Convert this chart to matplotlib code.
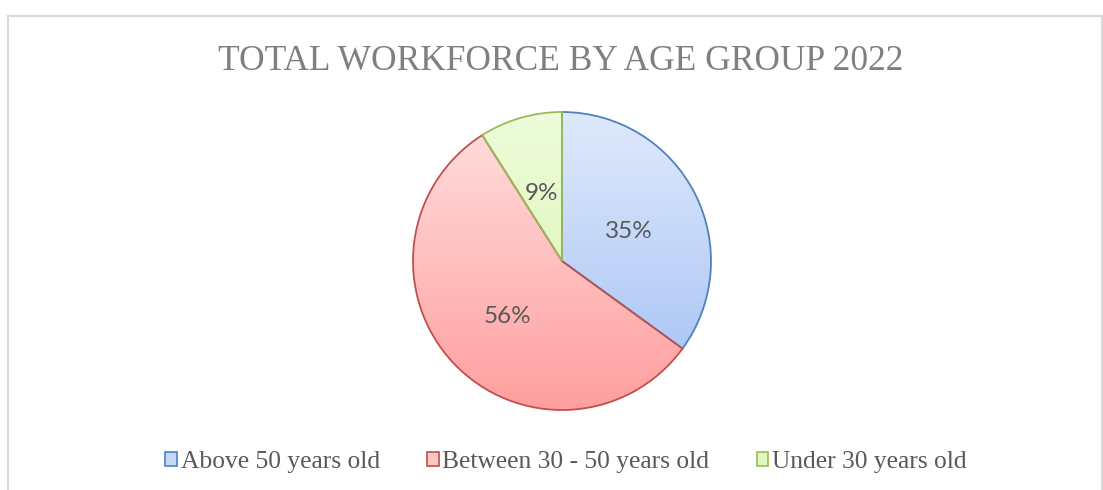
import numpy as np
import matplotlib
matplotlib.use("Agg")
import matplotlib.pyplot as plt
from matplotlib.colors import to_rgb
from matplotlib.patches import Patch

# data
groups = ["Above 50 years old", "Between 30 - 50 years old", "Under 30 years old"]
shares = [35, 56, 9]
top_colors = ["#dfe9fc", "#ffe0e0", "#eefcdb"]
bottom_colors = ["#a2c0f4", "#ff9e9e", "#d5f3a6"]
edge_colors = ["#4f81bd", "#c0504d", "#9bbb59"]

W, H = 1103, 490
fig = plt.figure(figsize=(W / 100, H / 100), dpi=100)

# chart area border (light grey)
fig.add_artist(plt.Line2D([8 / W, 8 / W], [0, 1 - 16 / H], color="#d9d9d9", lw=1.5))
fig.add_artist(plt.Line2D([8 / W, 1102 / W], [1 - 16 / H, 1 - 16 / H], color="#d9d9d9", lw=1.5))
fig.add_artist(plt.Line2D([1102 / W, 1102 / W], [0, 1 - 16 / H], color="#d9d9d9", lw=1.5))

fig.text(561 / W, 1 - 62 / H, "TOTAL WORKFORCE BY AGE GROUP 2022", ha="center", va="center",
         fontsize=25.5, color="#7f7f7f", family="Liberation Serif")

# pie
cx, cy, r = 562, 261, 149
ax = fig.add_axes([(cx - r) / W, (H - cy - r) / H, 2 * r / W, 2 * r / H])
wedges, texts, autotexts = ax.pie(shares, startangle=90, counterclock=False, radius=1,
                                  autopct="%d%%", pctdistance=0.5,
                                  wedgeprops=dict(linewidth=1.3),
                                  textprops=dict(fontsize=17.5, color="#595959", family="Lato"))
ax.set_xlim(-1, 1)
ax.set_ylim(-1, 1)
ax.set_aspect("auto")
ax.axis("off")

t = np.linspace(0, 1, 256)[:, None]
for w, c1, c2, ec in zip(wedges, top_colors, bottom_colors, edge_colors):
    a, b = np.array(to_rgb(c1)), np.array(to_rgb(c2))
    grad = (a[None, None, :] * (1 - t[:, :, None]) + b[None, None, :] * t[:, :, None])
    grad = np.repeat(grad, 2, axis=1)
    im = ax.imshow(grad, extent=(-1, 1, -1, 1), origin="upper", aspect="auto", zorder=1)
    im.set_clip_path(w)
    w.set_facecolor("none")
    w.set_edgecolor(ec)
    w.set_zorder(2)
for txt in autotexts:
    x, y = txt.get_position()
    txt.set_position((x, y - 0.03))
    txt.set_zorder(3)

handles = [Patch(facecolor=c, edgecolor=ec, linewidth=1.2)
           for c, ec in zip(["#c6d8f8", "#ffc4c4", "#e2f8c2"], edge_colors)]
fig.legend(handles, groups, loc="center", bbox_to_anchor=(566 / W, 1 - 462 / H), ncol=3,
           frameon=False, handlelength=0.45, handleheight=0.45, handletextpad=0.15,
           columnspacing=1.85, prop=dict(family="Liberation Serif", size=18.4),
           labelcolor="#595959")

fig.savefig("out.png", dpi=100)
